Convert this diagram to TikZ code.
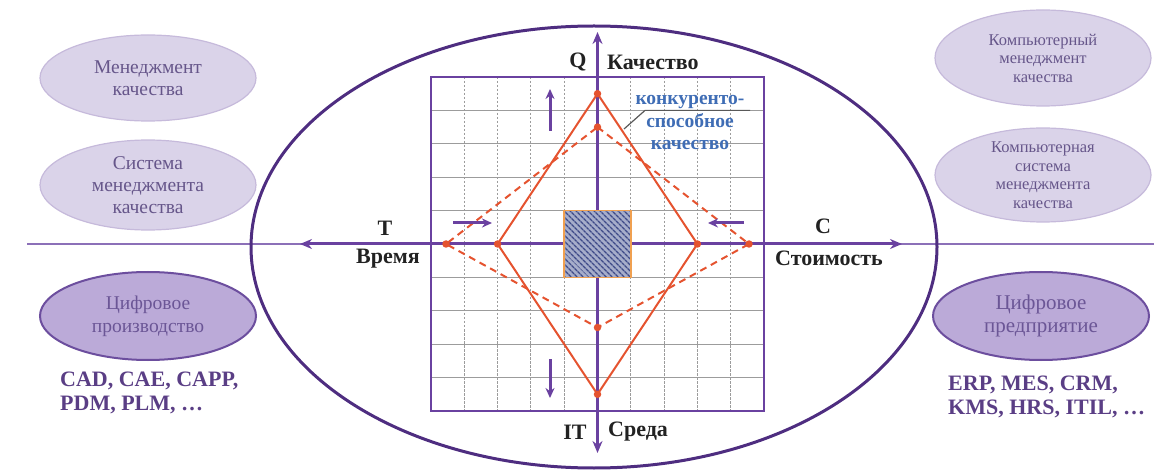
\documentclass[tikz,border=0pt]{standalone}
\usepackage{fontspec}
\setmainfont{Liberation Serif}
\usetikzlibrary{arrows.meta,patterns.meta,shapes.geometric}
\definecolor{axispurple}{HTML}{6A41A0}
\definecolor{bigpurple}{HTML}{4E2D80}
\definecolor{thinpurple}{HTML}{8C70B8}
\definecolor{lightfill}{HTML}{DAD3E9}
\definecolor{lightborder}{HTML}{C6BADB}
\definecolor{lighttext}{HTML}{66568A}
\definecolor{digfill}{HTML}{BBAAD8}
\definecolor{digborder}{HTML}{6C4E9E}
\definecolor{digtext}{HTML}{6B5696}
\definecolor{listtext}{HTML}{5A3E85}
\definecolor{redline}{HTML}{E5532F}
\definecolor{bluetext}{HTML}{3F6DB5}
\definecolor{gridgrey}{HTML}{9C9C9C}
\definecolor{hatchfill}{HTML}{A6ADCA}
\definecolor{hatchline}{HTML}{3E4A88}
\definecolor{sqborder}{HTML}{F0A050}
\definecolor{labelblack}{HTML}{222222}
\newcommand{\myfs}[2]{\fontsize{#1}{#2}\selectfont}
\begin{document}
\begin{tikzpicture}[x=1pt,y=-1pt,
  lightell/.style={ellipse, draw=lightborder, fill=lightfill, line width=1.2pt, minimum width=216pt, minimum height=#1},
  digell/.style={ellipse, draw=digborder, fill=digfill, line width=2pt, minimum width=216pt, minimum height=88pt},
  lighttxt/.style={align=center, text=lighttext, inner sep=0pt},
  digtxt/.style={align=center, text=digtext, inner sep=0pt, font=\myfs{21}{23.5}},
  listtxt/.style={align=left, text=listtext, inner sep=0pt, font=\bfseries\myfs{22}{24.5}},
  axlabel/.style={text=labelblack, inner sep=0pt, font=\bfseries\myfs{22}{24}},
  axisarrow/.style={draw=axispurple, line width=3pt, -{Stealth[length=12pt,width=10pt]}},
  smallarrow/.style={draw=axispurple, line width=3pt, -{Stealth[length=10pt,width=9pt]}},
  gridh/.style={draw=gridgrey, line width=1.1pt},
  gridv/.style={draw=gridgrey, line width=1.1pt, dash pattern=on 2.5pt off 1.5pt},
  redsolid/.style={draw=redline, line width=2pt, line join=miter},
  reddash/.style={draw=redline, line width=2pt, dash pattern=on 7pt off 5pt},
  reddot/.style={circle, fill=redline, inner sep=0pt, minimum size=7.5pt},
]
\useasboundingbox (0,0) rectangle (1154,470);

% long thin horizontal line
\coordinate (hl) at (27,244);
\coordinate (hr) at (1154,244);
\draw[thinpurple, line width=1.6pt] (hl) -- (hr);

% big ellipse
\node[ellipse, draw=bigpurple, line width=3pt, minimum width=686pt, minimum height=442pt] (big) at (594,247) {};

% grid
\foreach \i in {1,...,9} {
  \draw[gridv] (431+33.3*\i,77) -- (431+33.3*\i,411);
  \draw[gridh] (431,77+33.4*\i) -- (764,77+33.4*\i);
}
\node[draw=axispurple, line width=2.8pt, minimum width=333pt, minimum height=334pt, inner sep=0pt] (grid) at (597.5,244) {};

% center coordinates
\coordinate (c) at (597.5,244);
\coordinate (qtip) at (597.5,32);
\coordinate (ittip) at (597.5,453);
\coordinate (ttip) at (300,244);
\coordinate (ctip) at (902,244);

% axes
\draw[axisarrow] (c) -- (qtip);
\draw[axisarrow] (c) -- (ittip);
\draw[axisarrow] (c) -- (ttip);
\draw[axisarrow] (c) -- (ctip);

% hatched square
\node[fill=hatchfill, minimum width=66.6pt, minimum height=66.8pt, inner sep=0pt] (sq) at (c) {};
\fill[pattern={Lines[angle=-45,distance=4pt,line width=1.5pt]}, pattern color=hatchline] (sq.south west) rectangle (sq.north east);
\draw[sqborder, line width=1.6pt] (sq.south west) rectangle (sq.north east);

% diamond vertices
\coordinate (st) at (597.5,93.7);
\coordinate (sb) at (597.5,394.3);
\coordinate (sl) at (497.6,244);
\coordinate (sr) at (697.4,244);
\coordinate (dt) at (597.5,127.1);
\coordinate (db) at (597.5,327.5);
\coordinate (dl) at (446,244);
\coordinate (dr) at (749,244);

\draw[reddash] (dt) -- (dr) -- (db) -- (dl) -- cycle;
\draw[redsolid] (st) -- (sr) -- (sb) -- (sl) -- cycle;
\foreach \p in {st,sb,sl,sr,dt,db,dl,dr} \node[reddot] (dot\p) at (\p) {};

% small arrows
\coordinate (ua1) at (550,131); \coordinate (ua2) at (550,89);
\coordinate (da1) at (550,359); \coordinate (da2) at (550,398);
\coordinate (ra1) at (453,223); \coordinate (ra2) at (492,223);
\coordinate (la1) at (744,223); \coordinate (la2) at (708,223);
\draw[smallarrow] (ua1) -- (ua2);
\draw[smallarrow] (da1) -- (da2);
\draw[smallarrow] (ra1) -- (ra2);
\draw[smallarrow] (la1) -- (la2);

% leader for competitive quality
\coordinate (ld1) at (624,129);
\coordinate (ld2) at (645,110.4);
\coordinate (ld3) at (750,110.4);
\draw[draw=black!65, line width=1.2pt] (ld1) -- (ld2) -- (ld3);
\node[align=center, text=bluetext, inner sep=0pt, font=\bfseries\myfs{19.5}{22.5}] (cq) at (690,123) {конкуренто-\\способное\\качество};

% axis labels
\node[axlabel] (q) at (578,62) {Q};
\node[axlabel, anchor=west] (kach) at (607,62) {Качество};
\node[axlabel] (it) at (575,432) {IT};
\node[axlabel, anchor=west] (sreda) at (608,432) {Среда};
\node[axlabel] (t) at (385,228) {T};
\node[axlabel] (vremya) at (388,259) {Время};
\node[axlabel] (cl) at (823,226) {C};
\node[axlabel] (stoim) at (829,258) {Стоимость};

% left ellipses
\node[lightell=86pt] (e1) at (148,78) {};
\node[lighttxt, font=\myfs{19.5}{22}] (e1t) at (e1) {Менеджмент\\качества};
\node[lightell=90pt] (e2) at (148,185) {};
\node[lighttxt, font=\myfs{19.5}{22}] (e2t) at (e2) {Система\\менеджмента\\качества};
\node[digell] (e3) at (148,316) {};
\node[digtxt, font=\myfs{19.5}{23}] (e3t) at (e3) {Цифровое\\производство};
\node[listtxt, anchor=west] (l1) at (60,393) {CAD, CAE, CAPP,\\PDM, PLM, …};

% right ellipses
\node[lightell=96pt] (e4) at (1043,58) {};
\node[lighttxt, font=\myfs{16.5}{18.5}] (e4t) at (e4) {Компьютерный\\менеджмент\\качества};
\node[lightell=94pt] (e5) at (1043,175) {};
\node[lighttxt, font=\myfs{16.5}{18.5}] (e5t) at (e5) {Компьютерная\\система\\менеджмента\\качества};
\node[digell] (e6) at (1041,316) {};
\node[digtxt] (e6t) at (e6) {Цифровое\\предприятие};
\node[listtxt, anchor=west] (l2) at (948,397) {ERP, MES, CRM,\\KMS, HRS, ITIL, …};
\end{tikzpicture}
\end{document}
